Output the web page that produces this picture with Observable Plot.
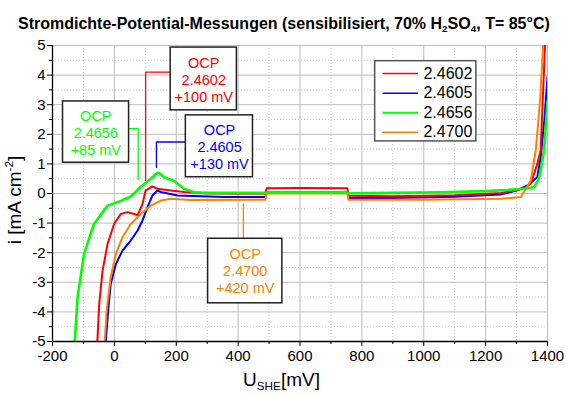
<!DOCTYPE html>
<html><head><meta charset="utf-8">
<script src="https://cdn.jsdelivr.net/npm/d3@7"></script>
<script src="https://cdn.jsdelivr.net/npm/@observablehq/plot@0.6"></script>
<style>
body{margin:0;background:#fff;font-family:"Liberation Sans",Arial,sans-serif;}
#wrap{position:relative;width:568px;height:397px;overflow:hidden;background:#fff;}
#chart{position:absolute;left:0;top:0;}
.lbl{position:absolute;white-space:nowrap;color:#000;line-height:1;}
#title{left:18px;top:16px;font-weight:bold;font-size:16px;}
#xlabel{left:243px;top:370px;font-size:19px;}
#ylabel{left:14px;top:200px;font-size:19px;transform:translate(-50%,-50%) rotate(-90deg);}
sub{font-size:62%;vertical-align:-0.35em;line-height:0;}
sup{font-size:62%;vertical-align:0.6em;line-height:0;}
</style></head><body>
<div id="wrap">
<div id="chart"></div>
<div id="title" class="lbl">Stromdichte-Potential-Messungen (sensibilisiert, 70% H<sub>2</sub>SO<sub>4</sub>, T= 85°C)</div>
<div id="xlabel" class="lbl">U<sub>SHE</sub>[mV]</div>
<div id="ylabel" class="lbl">i [mA cm<sup>-2</sup>]</div>
</div>
<script>
// ---- data ----
const seriesNames = ["2.4602", "2.4605", "2.4656", "2.4700"];
const seriesColors = ["#ff0000", "#0000ff", "#00ff00", "#ff8000"];

const U_2_4602 = [-55,-49,-38,-22,-1,21,42,64,75,91,101,123,139,182,225,300,400,488,492,600,753,757,900,1100,1250,1320,1346,1367,1378,1392];
const I_2_4602 = [-5,-3.73,-2.6,-1.7,-1.03,-0.69,-0.63,-0.69,-0.74,-0.35,0.1,0.24,0.16,0.1,0.05,0.0,-0.01,-0.01,0.18,0.19,0.18,-0.08,-0.09,-0.06,0.02,0.15,0.33,1.0,1.46,5];

const U_2_4605 = [-28,-20,-12,5,26,53,75,91,107,123,139,150,204,354,488,492,753,757,900,1100,1250,1300,1335,1367,1378,1390,1400];
const I_2_4605 = [-5,-3.96,-3.06,-2.38,-1.93,-1.59,-1.25,-0.91,-0.46,-0.07,0.1,0.05,-0.07,-0.12,-0.12,0.03,0.03,-0.15,-0.15,-0.11,-0.03,0.1,0.27,0.55,1.23,2.5,3.95];

const U_2_4656 = [-128,-119,-98,-66,-22,21,53,85,118,139,145,161,193,225,258,300,488,492,753,757,900,1055,1200,1270,1330,1356,1370,1378,1389,1400];
const I_2_4656 = [-5,-3.51,-2.04,-1.03,-0.41,-0.25,-0.1,0.22,0.5,0.7,0.69,0.55,0.42,0.16,0.04,0.02,0.02,0.03,0.03,0.01,0.02,0.04,0.08,0.12,0.17,0.21,0.45,0.78,1.46,3.1];

const U_2_4700 = [-31,-25,-12,5,26,53,85,118,150,182,247,484,488,492,753,757,1000,1250,1314,1346,1362,1375,1386];
const I_2_4700 = [-5,-3.96,-2.83,-2.04,-1.48,-1.03,-0.69,-0.41,-0.24,-0.18,-0.22,-0.21,-0.21,0.0,0.0,-0.21,-0.21,-0.18,-0.12,0.44,1.46,3.0,5];

const xMajorTicks = [-200,0,200,400,600,800,1000,1200,1400];
const xMinorTicks = [-100,100,300,500,700,900,1100,1300];
const yMajorTicks = [-5,-4,-3,-2,-1,0,1,2,3,4,5];
const yMinorTicks = [-4.5,-3.5,-2.5,-1.5,-0.5,0.5,1.5,2.5,3.5,4.5];

// OCP annotations: series index, OCP potential (mV), label lines
const ocpSeries = [0, 1, 2, 3];
const ocpU = [101, 136, 77, 417];
const ocpText = ["OCP\n2.4602\n+100 mV", "OCP\n2.4605\n+130 mV", "OCP\n2.4656\n+85 mV", "OCP\n2.4700\n+420 mV"];

// ---- layout of the annotation boxes (in axis units) ----
const boxLayout = [
  {x1:182, x2:396, y1:2.81, y2:4.93, tx:289, ty:3.85, cy:4.10, yEnd:0.44},
  {x1:231, x2:448, y1:0.55, y2:2.64, tx:340, ty:1.60, cy:1.74, yEnd:0.88},
  {x1:-166, x2:47.5, y1:1.04, y2:3.11, tx:-60, ty:2.06, cy:2.19, yEnd:0.47},
  {x1:303, x2:543, y1:-3.71, y2:-1.53, tx:423, ty:-2.60, cy:null, yEnd:-0.35}
];
const legendLayout = {x1:843, x2:1170, y1:1.76, y2:4.47, lx1:868, lx2:983, tx:999, ys:[4.05,3.39,2.73,2.07]};

const curves = [
  {U:U_2_4602, I:I_2_4602, w:2},
  {U:U_2_4605, I:I_2_4605, w:2},
  {U:U_2_4656, I:I_2_4656, w:2.6},
  {U:U_2_4700, I:I_2_4700, w:2}
];
const drawOrder = [1, 0, 3, 2];

const marks = [];
// grid
marks.push(Plot.gridX(xMinorTicks, {stroke:"#c8c8c8", strokeOpacity:1, strokeDasharray:"1,2"}));
marks.push(Plot.gridY(yMinorTicks, {stroke:"#c8c8c8", strokeOpacity:1, strokeDasharray:"1,2"}));
marks.push(Plot.gridX(xMajorTicks, {stroke:"#bdbdbd", strokeOpacity:1}));
marks.push(Plot.gridY(yMajorTicks, {stroke:"#bdbdbd", strokeOpacity:1}));

// curves
for (const k of drawOrder) {
  const c = curves[k];
  const pts = c.U.map((u, j) => ({u, i: c.I[j]}));
  marks.push(Plot.line(pts, {x:"u", y:"i", stroke:seriesColors[k], strokeWidth:c.w, clip:true, curve:"linear"}));
}

// OCP connectors, boxes and labels
ocpSeries.forEach((s, n) => {
  const b = boxLayout[n];
  const pts = [];
  if (b.cy !== null) { pts.push({u:b.x1, i:b.cy}); pts.push({u:ocpU[n], i:b.cy}); }
  else { pts.push({u:ocpU[n], i:b.y2}); }
  pts.push({u:ocpU[n], i:b.yEnd});
  marks.push(Plot.line(pts, {x:"u", y:"i", stroke:seriesColors[s], strokeWidth:1.3}));
  marks.push(Plot.rect([b], {x1:"x1", x2:"x2", y1:"y1", y2:"y2", fill:"white", stroke:"#222", strokeWidth:1.5}));
  marks.push(Plot.text([b], {x:"tx", y:"ty", text:() => ocpText[n], fill:seriesColors[s], fontSize:14.5, lineHeight:1.18, fontFamily:"Liberation Sans, Arial, sans-serif"}));
});

// legend
const L = legendLayout;
marks.push(Plot.rect([L], {x1:"x1", x2:"x2", y1:"y1", y2:"y2", fill:"white", stroke:"#555", strokeWidth:1.5}));
const legendRows = seriesNames.map((name, k) => ({name, k, y:L.ys[k], x1:L.lx1, x2:L.lx2, tx:L.tx}));
marks.push(Plot.ruleY(legendRows, {y:"y", x1:"x1", x2:"x2", stroke:d => seriesColors[d.k], strokeWidth:d => curves[d.k].w * 0.75}));
marks.push(Plot.text(legendRows, {x:"tx", y:"y", text:"name", textAnchor:"start", fontSize:16, fill:"#000", fontFamily:"Liberation Sans, Arial, sans-serif"}));

// axes
marks.push(Plot.axisX(xMajorTicks, {tickSize:5, tickPadding:4, fontSize:15, tickFormat:d => String(d), label:null, stroke:"#000"}));
marks.push(Plot.axisX(xMinorTicks, {tickSize:3, tickFormat:null, text:null, label:null, stroke:"#000"}));
marks.push(Plot.axisY(yMajorTicks, {tickSize:5, tickPadding:2, fontSize:15, tickFormat:d => String(d), label:null, stroke:"#000"}));
marks.push(Plot.axisY(yMinorTicks, {tickSize:3, tickFormat:null, text:null, label:null, stroke:"#000"}));
marks.push(Plot.ruleY([-5], {stroke:"#000", strokeWidth:1.3}));
marks.push(Plot.ruleX([-200], {stroke:"#000", strokeWidth:1.3}));

const chart = Plot.plot({
  width:568, height:397,
  marginLeft:52, marginRight:21, marginTop:45, marginBottom:56,
  style:{background:"transparent", color:"#000", fontFamily:"Liberation Sans, Arial, sans-serif"},
  x:{domain:[-200,1400], axis:null},
  y:{domain:[-5,5], axis:null},
  marks
});
document.getElementById("chart").appendChild(chart);
</script>
</body></html>
